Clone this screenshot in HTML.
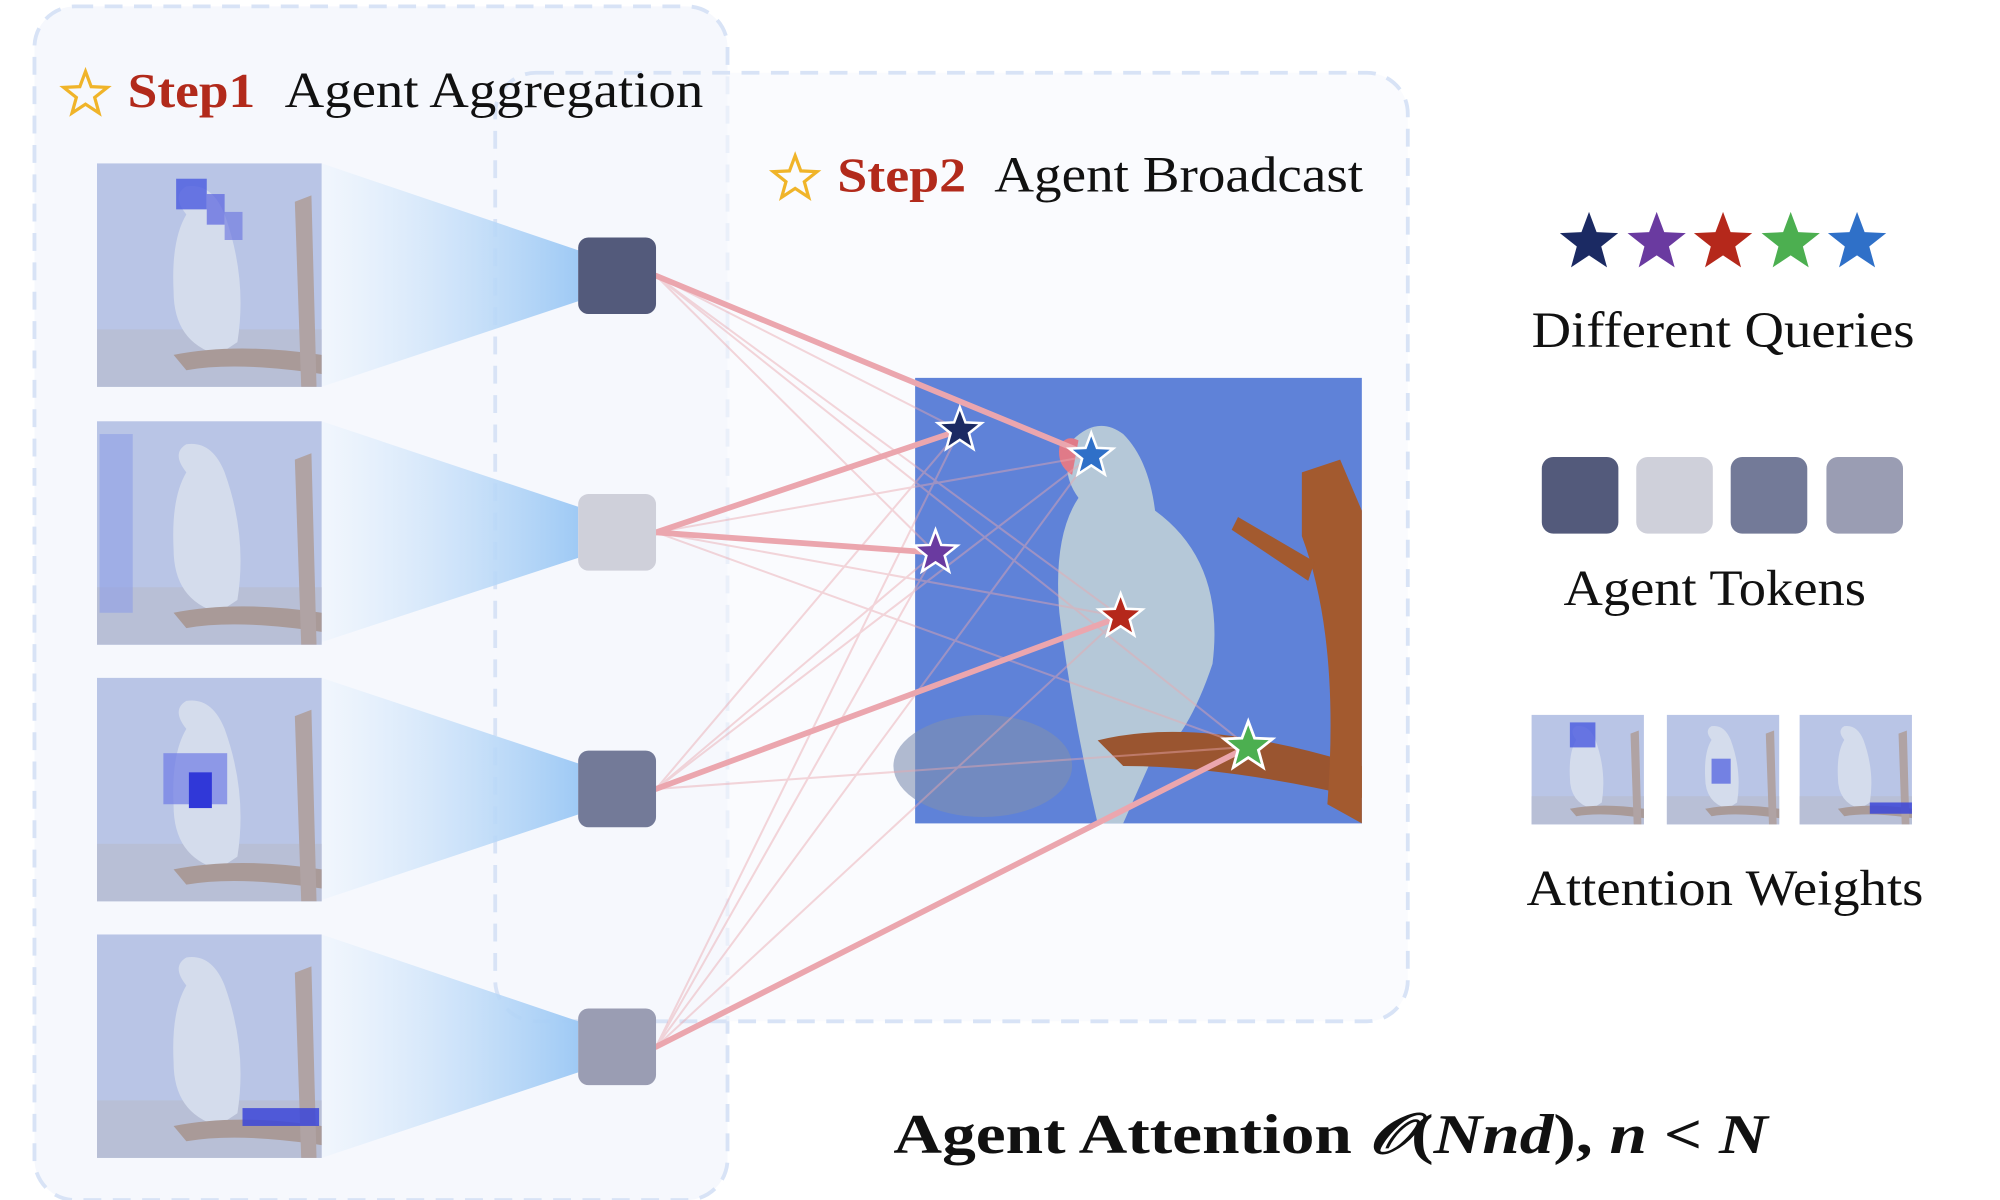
<!DOCTYPE html>
<html><head><meta charset="utf-8"><style>
html,body{margin:0;padding:0;background:#fff;width:2000px;height:1200px;overflow:hidden}
svg{display:block}
text{font-family:"Liberation Serif",serif}
</style></head><body>
<svg width="2000" height="1200" viewBox="0 0 1567 940" preserveAspectRatio="none" xmlns="http://www.w3.org/2000/svg">
<defs>
<path id="st" d="M0,-1 L0.247,-0.34 0.951,-0.309 0.399,0.13 0.588,0.809 0,0.42 -0.588,0.809 -0.399,0.13 -0.951,-0.309 -0.247,-0.34Z"/>
<linearGradient id="cone" x1="0" y1="0" x2="1" y2="0">
<stop offset="0" stop-color="#eef5fd" stop-opacity="0.6"/><stop offset="1" stop-color="#9fcaf5"/></linearGradient>
<g id="thumb">
<rect x="0" y="0" width="176" height="175" fill="#b9c5e6"/>
<rect x="0" y="130" width="176" height="45" fill="#b8bfd6"/>
<path d="M70,40 Q58,25 70,18 Q90,15 100,40 Q118,90 110,140 L95,150 Q60,140 60,100 Q58,60 70,40Z" fill="#d4dcec"/>
<path d="M60,150 Q110,140 176,150 L176,165 Q110,155 70,162Z" fill="#a99a98"/>
<path d="M155,30 L168,25 L172,175 L160,175Z" fill="#b0a3a4"/>
</g>
</defs>
<rect x="27" y="5" width="543" height="935" rx="32" fill="#f6f8fd" stroke="#d8e3f6" stroke-width="3" stroke-dasharray="14 9"/>
<rect x="388" y="57" width="715" height="743" rx="32" fill="#f6f8fd" fill-opacity="0.6" stroke="#d8e3f6" stroke-width="3" stroke-dasharray="14 9"/>

<polygon points="252,128 453,196 453,236 252,303" fill="url(#cone)"/>
<polygon points="252,330 453,397 453,437 252,503" fill="url(#cone)"/>
<polygon points="252,531 453,598 453,638 252,705" fill="url(#cone)"/>
<polygon points="252,732 453,800 453,840 252,907" fill="url(#cone)"/>

<use href="#thumb" x="76" y="128"/>
<rect x="138" y="140" width="24" height="24" fill="#4a5ae0" opacity="0.8"/><rect x="162" y="152" width="14" height="24" fill="#5a63e0" opacity="0.7"/><rect x="176" y="166" width="14" height="22" fill="#6670df" opacity="0.6"/>
<use href="#thumb" x="76" y="330"/>
<rect x="78" y="340" width="26" height="140" fill="#8e9fe6" opacity="0.6"/>
<use href="#thumb" x="76" y="531"/>
<rect x="128" y="590" width="50" height="40" fill="#6f7ae6" opacity="0.7"/><rect x="148" y="605" width="18" height="28" fill="#3038d8"/>
<use href="#thumb" x="76" y="732"/>
<rect x="190" y="868" width="60" height="14" fill="#3c46d8" opacity="0.85"/>

<rect x="717" y="296" width="350" height="349" fill="#5f82d8"/>
<ellipse cx="770" cy="600" rx="70" ry="40" fill="#7f8fb0" opacity="0.6"/>
<path d="M840,345 Q860,325 880,340 Q900,360 905,400 Q960,440 950,520 Q930,580 900,600 L880,645 L860,645 Q840,560 830,480 Q825,420 845,390 Q830,370 840,345Z" fill="#b5c8d8"/>
<path d="M830,350 Q835,340 845,345 L840,372 Q828,365 830,350Z" fill="#e07a88"/>
<path d="M860,580 Q940,560 1067,600 L1067,625 Q960,600 880,600Z" fill="#9a5530"/>
<path d="M1020,370 L1050,360 L1067,400 L1067,645 L1040,630 Q1050,500 1020,420Z" fill="#a35a2f"/>
<path d="M970,405 L1030,440 L1025,455 L965,415Z" fill="#a35a2f"/>

<g stroke="#eaa7ae" stroke-width="1.6" opacity="0.45">
<line x1="514" y1="216" x2="752" y2="337"/><line x1="514" y1="216" x2="733" y2="433"/><line x1="514" y1="216" x2="878" y2="483"/><line x1="514" y1="216" x2="978" y2="585"/>
<line x1="514" y1="417" x2="855" y2="357"/><line x1="514" y1="417" x2="878" y2="483"/><line x1="514" y1="417" x2="978" y2="585"/>
<line x1="514" y1="618" x2="752" y2="337"/><line x1="514" y1="618" x2="855" y2="357"/><line x1="514" y1="618" x2="733" y2="433"/><line x1="514" y1="618" x2="978" y2="585"/>
<line x1="514" y1="820" x2="752" y2="337"/><line x1="514" y1="820" x2="855" y2="357"/><line x1="514" y1="820" x2="733" y2="433"/><line x1="514" y1="820" x2="878" y2="483"/>
</g>
<g stroke="#eba6ae" stroke-width="4.5" stroke-linecap="round">
<line x1="514" y1="216" x2="855" y2="357"/>
<line x1="514" y1="417" x2="752" y2="337"/><line x1="514" y1="417" x2="733" y2="433"/>
<line x1="514" y1="618" x2="878" y2="483"/>
<line x1="514" y1="820" x2="978" y2="585"/>
</g>

<rect x="453" y="186" width="61" height="60" rx="8" fill="#535a7b"/>
<rect x="453" y="387" width="61" height="60" rx="8" fill="#cfd0da"/>
<rect x="453" y="588" width="61" height="60" rx="8" fill="#737a98"/>
<rect x="453" y="790" width="61" height="60" rx="8" fill="#9a9db3"/>

<g stroke="#fff" stroke-width="0.11">
<use href="#st" transform="translate(752,337) scale(18)" fill="#1b2a63"/>
<use href="#st" transform="translate(855,357) scale(18)" fill="#2f70c8"/>
<use href="#st" transform="translate(733,433) scale(18)" fill="#6a3aa0"/>
<use href="#st" transform="translate(878,483) scale(18)" fill="#b5281b"/>
<use href="#st" transform="translate(978,585) scale(20)" fill="#4caf50"/>
</g>

<use href="#st" transform="translate(67,74) scale(18)" fill="none" stroke="#f0b429" stroke-width="0.14"/>
<text x="100" y="84" font-size="38" font-weight="bold" fill="#b22a1b" textLength="100" lengthAdjust="spacingAndGlyphs">Step1</text>
<text x="223" y="84" font-size="40" fill="#111" textLength="328" lengthAdjust="spacingAndGlyphs">Agent Aggregation</text>
<use href="#st" transform="translate(623,140) scale(18)" fill="none" stroke="#f0b429" stroke-width="0.14"/>
<text x="656" y="150" font-size="38" font-weight="bold" fill="#b22a1b" textLength="101" lengthAdjust="spacingAndGlyphs">Step2</text>
<text x="779" y="150" font-size="40" fill="#111" textLength="289" lengthAdjust="spacingAndGlyphs">Agent Broadcast</text>

<use href="#st" transform="translate(1245,190) scale(24)" fill="#1b2a63"/>
<use href="#st" transform="translate(1298,190) scale(24)" fill="#6a3aa0"/>
<use href="#st" transform="translate(1350,190) scale(24)" fill="#b5281b"/>
<use href="#st" transform="translate(1403,190) scale(24)" fill="#4caf50"/>
<use href="#st" transform="translate(1455,190) scale(24)" fill="#2f70c8"/>
<text x="1200" y="272" font-size="40" fill="#111" textLength="300" lengthAdjust="spacingAndGlyphs">Different Queries</text>
<rect x="1208" y="358" width="60" height="60" rx="9" fill="#535a7b"/>
<rect x="1282" y="358" width="60" height="60" rx="9" fill="#cfd0da"/>
<rect x="1356" y="358" width="60" height="60" rx="9" fill="#737a98"/>
<rect x="1431" y="358" width="60" height="60" rx="9" fill="#9a9db3"/>
<text x="1225" y="474" font-size="40" fill="#111" textLength="237" lengthAdjust="spacingAndGlyphs">Agent Tokens</text>
<g transform="translate(1200,560) scale(0.5,0.49)"><use href="#thumb"/><rect x="60" y="12" width="40" height="40" fill="#4a5ae0" opacity="0.8"/></g>
<g transform="translate(1306,560) scale(0.5,0.49)"><use href="#thumb"/><rect x="70" y="70" width="30" height="40" fill="#4a5ae0" opacity="0.7"/></g>
<g transform="translate(1410,560) scale(0.5,0.49)"><use href="#thumb"/><rect x="110" y="140" width="66" height="18" fill="#3c46d8" opacity="0.85"/></g>
<text x="1196" y="709" font-size="40" fill="#111" textLength="311" lengthAdjust="spacingAndGlyphs">Attention Weights</text>

<text x="700" y="903" font-size="44" font-weight="bold" fill="#111" textLength="685" lengthAdjust="spacingAndGlyphs">Agent Attention <tspan font-style="italic">𝒪</tspan>(<tspan font-style="italic">Nnd</tspan>), <tspan font-style="italic">n</tspan> &lt; <tspan font-style="italic">N</tspan></text>
</svg>
</body></html>
